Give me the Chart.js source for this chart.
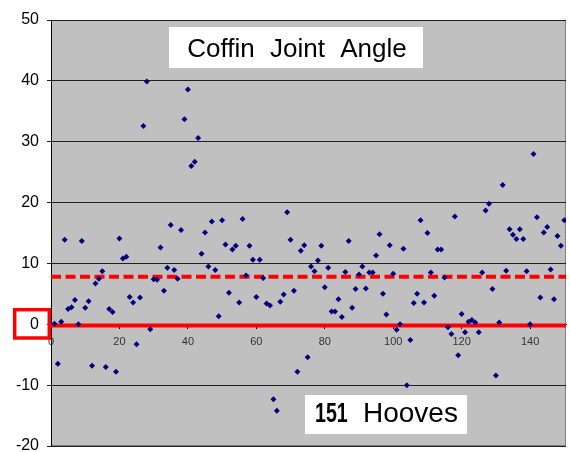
<!DOCTYPE html>
<html>
<head>
<meta charset="utf-8">
<title>Coffin Joint Angle</title>
<script src="https://cdn.jsdelivr.net/npm/chart.js@4.4.1/dist/chart.umd.min.js"></script>
<style>
    body { margin: 0; background: #ffffff; }
    #wrap { width: 570px; height: 452px; }
</style>
</head>
<body>
<div id="wrap"><canvas id="angleChart" width="570" height="452"></canvas></div>
<script>
// Dados (um ponto por casco, pela ordem)
const angles = [
    0.1, -6.5, 0.4, 13.9, 2.5, 2.8, 4.0, 0.0, 13.7, 2.7,
    3.8, -6.8, 6.7, 7.5, 8.7, -7.0, 2.5, 2.0, -7.8, 14.1,
    10.8, 11.1, 4.5, 3.6, -3.3, 4.4, 32.6, 39.9, -0.8, 7.4,
    7.3, 12.6, 5.5, 9.3, 16.3, 8.9, 7.5, 15.5, 33.7, 38.6,
    26.0, 26.7, 30.6, 11.6, 15.1, 9.5, 16.9, 8.9, 1.3, 17.1,
    13.1, 5.2, 12.3, 12.9, 3.6, 17.3, 8.0, 12.9, 10.6, 4.5,
    10.6, 7.6, 3.4, 3.1, -12.3, -14.2, 3.7, 4.9, 18.4, 13.9,
    5.5, -7.8, 12.1, 13.0, -5.4, 9.5, 8.7, 10.5, 12.9, 6.1,
    9.3, 2.1, 2.1, 4.1, 1.2, 8.6, 13.7, 2.7, 5.8, 8.2,
    9.5, 5.9, 8.5, 8.5, 11.3, 14.8, 5.0, 1.6, 13.0, 8.3,
    -0.9, 0.0, 12.4, -10.0, -2.6, 3.5, 5.0, 17.1, 3.6, 15.0,
    8.5, 4.7, 12.3, 12.3, 7.7, -0.5, -1.6, 17.7, -5.1, 1.7,
    -1.3, 0.4, 0.7, 0.3, -1.3, 8.5, 18.7, 19.8, 5.8, -8.4,
    0.3, 22.9, 8.8, 15.6, 14.7, 14.0, 15.6, 14.0, 8.7, 0.0,
    28.0, 17.6, 4.4, 15.1, 16.0, 9.0, 4.1, 14.5, 12.9, 17.1
];
const meanLine = 7.8;
const zeroLine = -0.2;
const xRange = [0, 150.5];
const yRange = [-20, 50];
const xStep = 20;
const yStep = 10;
const chartTitle = 'Coffin Joint Angle';
const countLabel = '151';
const countText = 'Hooves';

const FONT = 'Arial, "Liberation Sans", sans-serif';
Chart.defaults.font.family = FONT;

// Fundo cinzento e moldura da área do gráfico
const plotBackground = {
    id: 'plotBackground',
    beforeDraw(chart) {
        const { ctx, chartArea: a } = chart;
        ctx.save();
        ctx.fillStyle = '#c0c0c0';
        ctx.fillRect(a.left, a.top, a.right - a.left, a.bottom - a.top);
        ctx.strokeStyle = '#808080';
        ctx.lineWidth = 1;
        ctx.strokeRect(a.left + 0.5, a.top + 0.5, a.right - a.left - 1, a.bottom - a.top - 1);
        ctx.restore();
    }
};

// Caixas de texto e destaque do zero
const annotations = {
    id: 'annotations',
    afterDraw(chart) {
        const { ctx } = chart;
        const y0 = chart.scales.y.getPixelForValue(0);
        ctx.save();

        ctx.strokeStyle = '#ff0000';
        ctx.lineWidth = 3.5;
        ctx.strokeRect(14.7, y0 - 14.6, 34.6, 28.3);

        ctx.fillStyle = '#ffffff';
        ctx.fillRect(169, 27, 254, 41);
        ctx.fillStyle = '#000000';
        ctx.font = '26px ' + FONT;
        ctx.textBaseline = 'alphabetic';
        ctx.textAlign = 'center';
        if ('wordSpacing' in ctx) ctx.wordSpacing = '8px';
        ctx.fillText(chartTitle, 297, 56.5);
        if ('wordSpacing' in ctx) ctx.wordSpacing = '0px';

        ctx.fillStyle = '#ffffff';
        ctx.fillRect(305, 395, 162, 39);
        ctx.fillStyle = '#000000';
        ctx.textAlign = 'left';
        // "151" em negrito estreito
        ctx.save();
        ctx.translate(315, 421.5);
        ctx.scale(0.7, 1);
        ctx.font = 'bold 28px ' + FONT;
        ctx.fillText(countLabel, 0, 0);
        ctx.restore();
        ctx.font = '28px ' + FONT;
        ctx.fillText(countText, 363, 421.5);

        ctx.restore();
    }
};

const points = angles.map((v, i) => ({ x: i + 1, y: v }));

new Chart(document.getElementById('angleChart'), {
    type: 'scatter',
    data: {
        datasets: [
            {
                data: points,
                pointStyle: 'rectRot',
                pointRadius: 3,
                pointBorderWidth: 0,
                pointBackgroundColor: '#000080',
                pointBorderColor: '#000080'
            },
            {
                type: 'line',
                data: [{ x: xRange[0], y: meanLine }, { x: xRange[1], y: meanLine }],
                borderColor: '#ff0000',
                borderWidth: 4,
                borderDash: [10, 4.5],
                pointRadius: 0
            },
            {
                type: 'line',
                data: [{ x: xRange[0], y: zeroLine }, { x: xRange[1], y: zeroLine }],
                borderColor: '#ff0000',
                borderWidth: 4,
                pointRadius: 0
            }
        ]
    },
    options: {
        responsive: false,
        animation: false,
        layout: { padding: { top: 20, right: 1, bottom: 6, left: 0 } },
        plugins: {
            legend: { display: false },
            tooltip: { enabled: false }
        },
        scales: {
            x: {
                type: 'linear',
                min: xRange[0],
                max: xRange[1],
                position: { y: 0 },
                afterFit(scale) {
                    scale.height = 0;
                    scale.paddingLeft = 0;
                    scale.paddingRight = 0;
                },
                grid: { drawOnChartArea: false, drawTicks: true, tickLength: 4, color: '#000000' },
                border: { display: true, color: '#000000' },
                ticks: {
                    stepSize: xStep,
                    includeBounds: false,
                    padding: 7,
                    color: '#333333',
                    font: { size: 11 },
                    maxRotation: 0
                }
            },
            y: {
                min: yRange[0],
                max: yRange[1],
                afterFit(scale) {
                    scale.width = 51;
                    scale.paddingTop = 0;
                    scale.paddingBottom = 0;
                },
                grid: { color: '#202020', lineWidth: 1, tickLength: 4 },
                border: { display: true, color: '#000000' },
                ticks: {
                    stepSize: yStep,
                    padding: 8,
                    color: '#000000',
                    font: { size: 16 }
                }
            }
        }
    },
    plugins: [plotBackground, annotations]
});
</script>
</body>
</html>
